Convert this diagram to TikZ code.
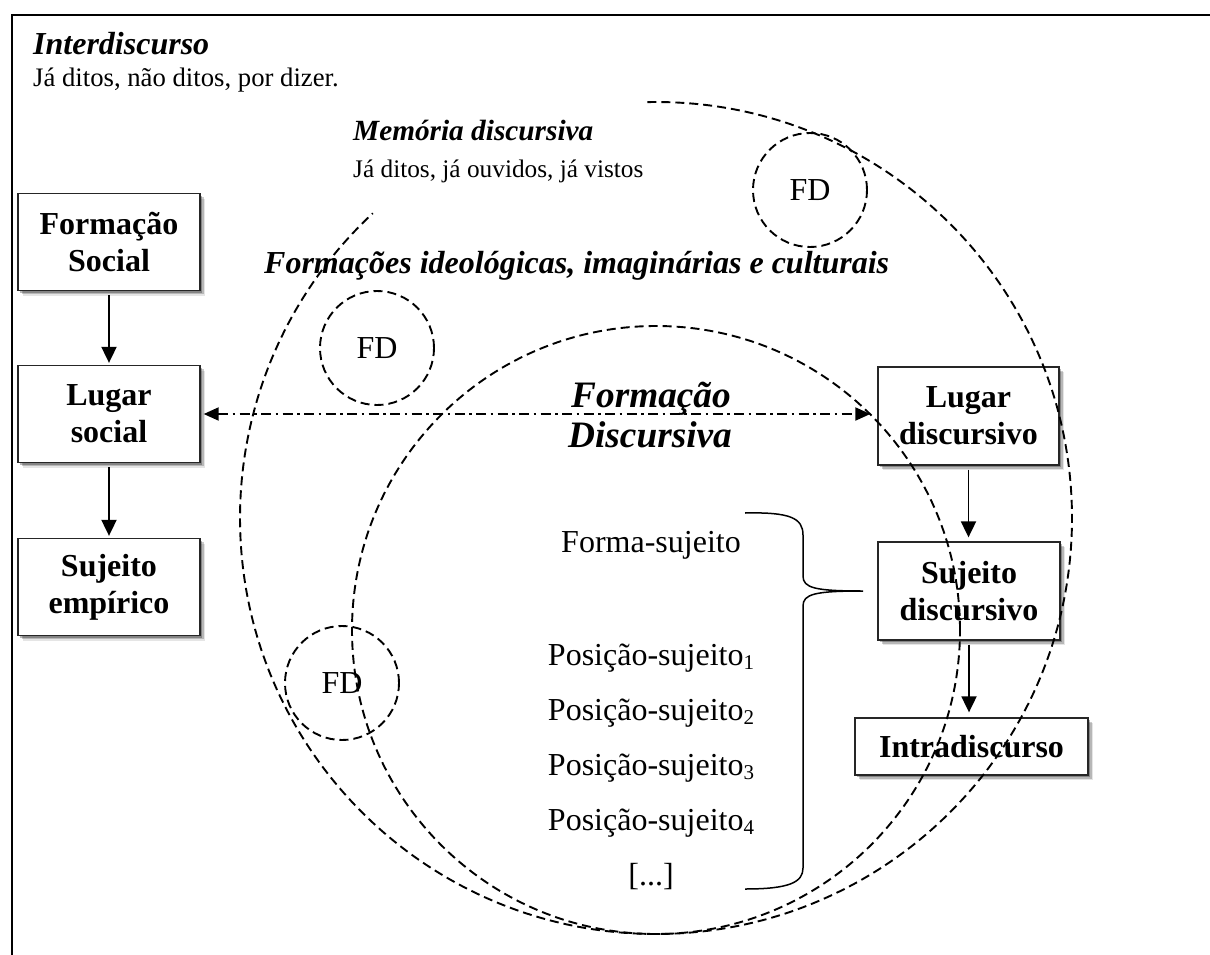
\documentclass[tikz,border=0pt]{standalone}
\usepackage{fontspec}
\setmainfont{Liberation Serif}
\usetikzlibrary{arrows.meta,shadows}

% small lowered index used in the list of subject positions
\newcommand{\possub}[1]{\raisebox{-0.28ex}{\fontsize{21}{21}\selectfont #1}}

\begin{document}
\begin{tikzpicture}[x=1pt,y=1pt,
  box/.style={draw=black!85, line width=1.3pt, fill=white, inner sep=0pt, align=center,
    font=\fontsize{32}{37}\selectfont\bfseries,
    drop shadow={shadow xshift=5pt,shadow yshift=-5pt,opacity=.10,fill=black},
    drop shadow={shadow xshift=3.5pt,shadow yshift=-3.5pt,opacity=.20,fill=black},
    drop shadow={shadow xshift=2pt,shadow yshift=-2pt,opacity=.28,fill=black}},
  ring/.style={line width=1.9pt, dash pattern=on 9pt off 5pt},
  fdcircle/.style={circle, draw, ring, minimum size=114pt, inner sep=0pt,
    font=\fontsize{32}{37}\selectfont},
  flow/.style={line width=1.9pt, -{Triangle[length=16pt,width=15pt]}},
  link/.style={line width=1.9pt, dash pattern=on 10pt off 4.5pt on 2.5pt off 4.5pt,
    {Triangle[length=15pt,width=13pt]}-{Triangle[length=15pt,width=13pt]}},
  label/.style={inner sep=0pt},
  title/.style={label, font=\fontsize{32}{37}\selectfont\bfseries\itshape},
  body/.style={label, font=\fontsize{32}{37}\selectfont}
]
\useasboundingbox (0,0) rectangle (1210,-955);
\clip (0,0) rectangle (1210,-955);

% outer frame of the interdiscourse
\draw[line width=2.6pt] (12,-15) rectangle (1230,-980);

\node[title, anchor=base west] (inter) at (33,-55) {Interdiscurso};
\node[label, anchor=base west, font=\fontsize{26.7}{30}\selectfont] (interdesc) at (33,-87)
  {Já ditos, não ditos, por dizer.};

\node[label, anchor=base west, font=\fontsize{29.3}{33}\selectfont\bfseries\itshape] (mem) at (353,-141)
  {Memória discursiva};
\node[label, anchor=base west, font=\fontsize{25.3}{29}\selectfont] (memdesc) at (353,-178)
  {Já ditos, já ouvidos, já vistos};

\node[title, anchor=base west] (formid) at (264,-273)
  {Formações ideológicas, imaginárias e culturais};

% boxes, left column
\node[box, minimum width=182pt, minimum height=97pt] (fsoc) at (109,-242) {Formação\\Social};
\node[box, minimum width=182pt, minimum height=97pt] (lsoc) at (109,-414) {Lugar\\social};
\node[box, minimum width=182pt, minimum height=97pt] (semp) at (109,-587) {Sujeito\\empírico};

% boxes, right column
\node[box, minimum width=181pt, minimum height=98pt] (ldisc) at (968.5,-416) {Lugar\\discursivo};
\node[box, minimum width=182pt, minimum height=98pt] (sdisc) at (969,-591) {Sujeito\\discursivo};
\node[box, minimum width=233pt, minimum height=57pt] (intra) at (971.5,-746.5) {Intradiscurso};

% big rings
\coordinate (outerc) at (656,-518);
\coordinate (innerc) at (656,-630);
\draw[ring] (outerc) ++(91.2:416) arc[start angle=91.2, end angle=-227.1, radius=416pt];
\draw[ring] (innerc) circle[radius=304pt];

% discursive formations
\node[fdcircle] (fd1) at (810,-190) {FD};
\node[fdcircle] (fd2) at (377,-348) {FD};
\node[fdcircle] (fd3) at (342,-683) {FD};

% centre label
\node[title, anchor=base, font=\fontsize{37.3}{42}\selectfont\bfseries\itshape] (fdA) at (651,-407) {Formação};
\node[title, anchor=base, font=\fontsize{37.3}{42}\selectfont\bfseries\itshape] (fdB) at (650,-447) {Discursiva};

% subject form and positions
\node[body, anchor=base] (forma) at (651,-552) {Forma-sujeito};
\node[body, anchor=base] (pos1) at (651,-665) {Posição-sujeito\possub{1}};
\node[body, anchor=base] (pos2) at (651,-720) {Posição-sujeito\possub{2}};
\node[body, anchor=base] (pos3) at (651,-775) {Posição-sujeito\possub{3}};
\node[body, anchor=base] (pos4) at (651,-830) {Posição-sujeito\possub{4}};
\node[body, anchor=base] (more) at (651,-885) {[...]};

% brace gathering the list towards the discursive subject
\coordinate (bracetip) at (863,-591);
\draw[line width=1.5pt] (745,-513) .. controls (790,-512) and (803,-518) .. (803,-535)
  -- (803,-576) .. controls (803,-588) and (815,-591) .. (bracetip)
  .. controls (815,-591) and (803,-594) .. (803,-606)
  -- (803,-868) .. controls (803,-882) and (790,-889) .. (745,-889);

% connectors
\draw[flow, shorten <=4pt, shorten >=2pt] (fsoc) -- (lsoc);
\draw[flow, shorten <=4pt, shorten >=2pt] (lsoc) -- (semp);
\draw[flow, shorten <=4pt, shorten >=4pt] (ldisc.south) -- (ldisc.south |- sdisc.north);
\draw[flow, shorten <=4pt, shorten >=5pt] (sdisc.south) -- (sdisc.south |- intra.north);
\draw[link, shorten <=3pt, shorten >=7pt] (lsoc.east) -- (lsoc.east -| ldisc.west);
\end{tikzpicture}
\end{document}
